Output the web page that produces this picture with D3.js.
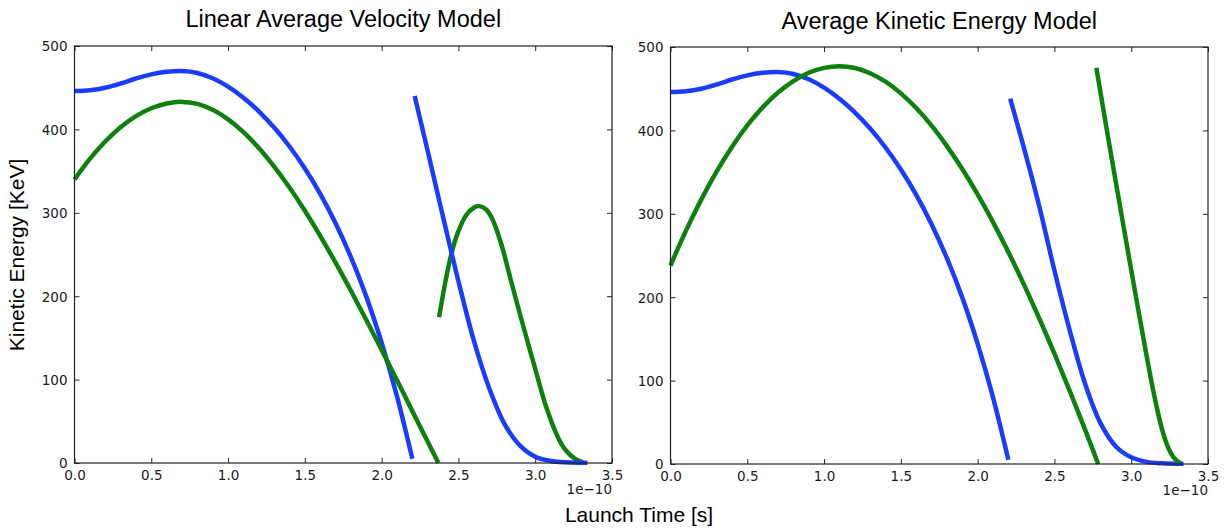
<!DOCTYPE html>
<html>
<head>
<meta charset="utf-8">
<script src="https://cdn.jsdelivr.net/npm/d3@7"></script>
<style>
  html, body { margin: 0; padding: 0; background: #fff; }
  svg { display: block; }
</style>
</head>
<body>
<svg id="chart" width="1228" height="529"></svg>
<script>
// ---- data (time in units of 1e-10 s, energy in KeV) ----
const xTicks = [0, 0.5, 1.0, 1.5, 2.0, 2.5, 3.0, 3.5];
const yTicks = [0, 100, 200, 300, 400, 500];
const panelTitles = ["Linear Average Velocity Model", "Average Kinetic Energy Model"];

// shared first blue curve
const blue1T = [0, 0.1, 0.2, 0.3, 0.4, 0.5, 0.6, 0.7, 0.8, 0.9, 1.0, 1.1, 1.2, 1.3, 1.4, 1.5, 1.6, 1.7, 1.8, 1.9, 2.0, 2.1, 2.2];
const blue1E = [446, 447, 450, 455, 461, 466, 469, 470, 467.7, 461.3, 451.3, 438, 421.7, 402.2, 379.5, 353.1, 322.8, 287.6, 246.8, 199.5, 144.2, 79.9, 5];

// left panel (Linear Average Velocity Model)
const lGreen1T = [0, 0.1, 0.2, 0.3, 0.4, 0.5, 0.6, 0.7, 0.8, 0.9, 1.0, 1.1, 1.2, 1.3, 1.4, 1.5, 1.6, 1.7, 1.8, 1.9, 2.0, 2.1, 2.2, 2.3, 2.37];
const lGreen1E = [340, 364.6, 385.5, 402.6, 415.9, 425.4, 431.1, 433, 430.6, 423.5, 412.1, 396.8, 377.8, 355.5, 330.3, 302.5, 272.3, 240.2, 206.5, 171.5, 135.5, 99.1, 62.2, 25.5, 0];
const lBlue2T = [2.215, 2.3, 2.4, 2.5, 2.6, 2.7, 2.8, 2.9, 3.0, 3.1, 3.2, 3.34];
const lBlue2E = [440, 374, 295, 218, 147, 90, 47, 21, 7.5, 2.5, 0.8, 0.2];
const lGreen2T = [2.374, 2.42, 2.46, 2.5, 2.55, 2.6, 2.634, 2.68, 2.72, 2.78, 2.84, 2.9, 2.96, 3.0, 3.07, 3.15, 3.2, 3.26, 3.31];
const lGreen2E = [175, 222, 255, 278, 297, 306, 308, 304, 293, 262, 220, 179, 139, 113, 68, 30, 15, 5, 1];

// right panel (Average Kinetic Energy Model)
const rGreen1T = [0, 0.1, 0.2, 0.3, 0.4, 0.5, 0.6, 0.7, 0.8, 0.9, 1.0, 1.1, 1.2, 1.3, 1.4, 1.5, 1.6, 1.7, 1.8, 1.9, 2.0, 2.1, 2.2, 2.3, 2.4, 2.5, 2.6, 2.7, 2.785];
const rGreen1E = [238, 279.5, 317, 350.6, 380.2, 405.9, 427.6, 445.4, 459.2, 469.1, 475, 477, 474.9, 468.6, 458.4, 444.4, 426.8, 405.7, 381.2, 353.7, 323.3, 290, 254.1, 215.7, 175.1, 132.3, 87.5, 41, 0];
const rBlue2T = [2.212, 2.3, 2.4, 2.5, 2.6, 2.7, 2.8, 2.9, 3.0, 3.1, 3.2, 3.34];
const rBlue2E = [438, 380, 310, 232, 160, 96, 49, 21, 8, 2.5, 0.8, 0.2];
const rGreen2T = [2.773, 2.864, 2.95, 3.04, 3.1, 3.15, 3.2, 3.24, 3.28, 3.32];
const rGreen2E = [475, 376, 285, 191, 130, 82, 42, 20, 7, 1];

const BLUE = "#1a3cff";
const GREEN = "#0d800d";

const panels = [
  { title: panelTitles[0], x0: 74.5, x1: 612, y0: 46, y1: 463, titleY: 27,
    series: [
      { t: blue1T, e: blue1E, c: BLUE },
      { t: lGreen1T, e: lGreen1E, c: GREEN },
      { t: lGreen2T, e: lGreen2E, c: GREEN },
      { t: lBlue2T, e: lBlue2E, c: BLUE }
    ] },
  { title: panelTitles[1], x0: 670.5, x1: 1208, y0: 47, y1: 464, titleY: 29,
    series: [
      { t: blue1T, e: blue1E, c: BLUE },
      { t: rGreen1T, e: rGreen1E, c: GREEN },
      { t: rBlue2T, e: rBlue2E, c: BLUE },
      { t: rGreen2T, e: rGreen2E, c: GREEN }
    ] }
];

const svg = d3.select("#chart");
svg.append("rect").attr("width", 1228).attr("height", 529).attr("fill", "#fff");

const tickFont = "'DejaVu Sans', sans-serif";
const labelFont = "'Liberation Sans', Arial, sans-serif";

panels.forEach(p => {
  const x = d3.scaleLinear().domain([0, 3.5]).range([p.x0, p.x1]);
  const y = d3.scaleLinear().domain([0, 500]).range([p.y1, p.y0]);
  const g = svg.append("g");

  const line = d3.line().curve(d3.curveCatmullRom.alpha(0.5)).x(d => x(d[0])).y(d => y(Math.max(0, d[1])));
  p.series.forEach(s => {
    g.append("path")
      .datum(s.t.map((t, i) => [t, s.e[i]]))
      .attr("d", line)
      .attr("fill", "none")
      .attr("stroke", s.c)
      .attr("stroke-width", 4.5)
      .attr("stroke-linecap", "butt")
      .attr("stroke-linejoin", "round");
  });

  // axes (ticks inside, on all sides)
  const tl = 5;
  const bottom = g.append("g").attr("transform", `translate(0,${p.y1})`)
    .call(d3.axisBottom(x).tickValues(xTicks).tickFormat(d3.format(".1f")).tickSizeInner(-tl).tickSizeOuter(0).tickPadding(7));
  const top = g.append("g").attr("transform", `translate(0,${p.y0})`)
    .call(d3.axisTop(x).tickValues(xTicks).tickFormat("").tickSizeInner(-tl).tickSizeOuter(0));
  const left = g.append("g").attr("transform", `translate(${p.x0},0)`)
    .call(d3.axisLeft(y).tickValues(yTicks).tickFormat(d3.format("d")).tickSizeInner(-tl).tickSizeOuter(0).tickPadding(7));
  const right = g.append("g").attr("transform", `translate(${p.x1},0)`)
    .call(d3.axisRight(y).tickValues(yTicks).tickFormat("").tickSizeInner(-tl).tickSizeOuter(0));
  [bottom, top, left, right].forEach(a => {
    a.select(".domain").remove();
    a.selectAll("line").attr("stroke", "#222").attr("stroke-width", 1);
    a.selectAll("text").attr("font-family", tickFont).attr("font-size", 13.5).attr("fill", "#1a1a1a");
  });
  left.selectAll("text").attr("dy", "0.36em");

  // frame
  g.append("rect")
    .attr("x", p.x0).attr("y", p.y0)
    .attr("width", p.x1 - p.x0).attr("height", p.y1 - p.y0)
    .attr("fill", "none").attr("stroke", "#222").attr("stroke-width", 1.2);

  // offset text
  g.append("text")
    .attr("x", p.x1).attr("y", p.y1 + 31)
    .attr("text-anchor", "end")
    .attr("font-family", tickFont).attr("font-size", 13.5).attr("fill", "#1a1a1a")
    .text("1e\u221210");

  // title
  g.append("text")
    .attr("x", (p.x0 + p.x1) / 2).attr("y", p.titleY)
    .attr("text-anchor", "middle")
    .attr("font-family", labelFont).attr("font-size", 23.5).attr("fill", "#000")
    .text(p.title);
});

svg.append("text")
  .attr("transform", "translate(24,255) rotate(-90)")
  .attr("text-anchor", "middle")
  .attr("font-family", labelFont).attr("font-size", 21).attr("fill", "#000")
  .text("Kinetic Energy [KeV]");

svg.append("text")
  .attr("x", 639).attr("y", 522)
  .attr("text-anchor", "middle")
  .attr("font-family", labelFont).attr("font-size", 21).attr("fill", "#000")
  .text("Launch Time [s]");
</script>
</body>
</html>
